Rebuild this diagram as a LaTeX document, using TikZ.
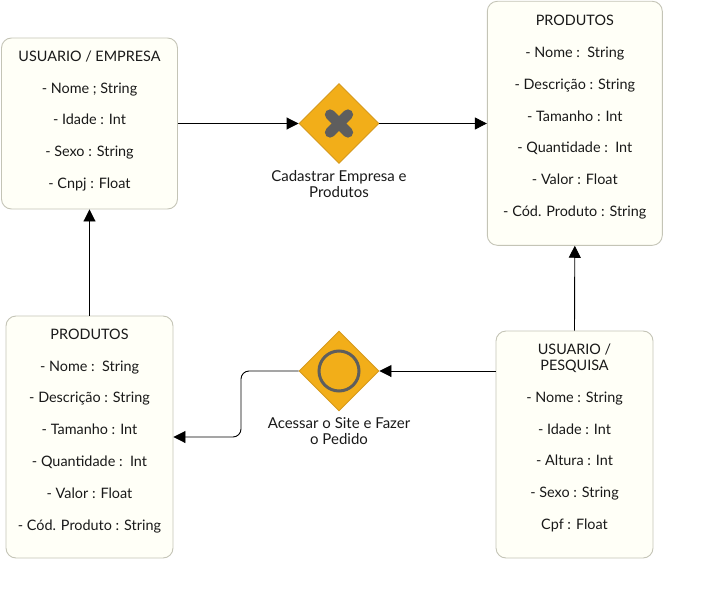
\documentclass[tikz,border=0pt]{standalone}
\usepackage{fontspec}
\setmainfont{Lato}
\usetikzlibrary{positioning,
	shapes.geometric,
	arrows.meta}
\definecolor{boxfill}{HTML}{FFFFF7}
\definecolor{boxline}{HTML}{C4C4B6}
\definecolor{gwfill}{HTML}{F2AE19}
\definecolor{gwline}{HTML}{D69A1E}
\definecolor{gwsym}{HTML}{5E5E5E}
\tikzstyle{entity}=[draw=boxline, line width=0.9pt, fill=boxfill, rounded corners=10pt, inner sep=0]
\tikzstyle{fields}=[align=center, inner sep=0, text=black!90, font=\fontsize{14.4}{16}\selectfont]
\tikzstyle{gateway}=[diamond, aspect=1, draw=gwline, line width=0.9pt, fill=gwfill, minimum width=80pt, minimum height=80pt, inner sep=0]
\tikzstyle{caption}=[align=center, inner sep=0, text=black!90, font=\fontsize{15}{16}\selectfont]
\tikzstyle{flow}=[-{Triangle[length=12pt,width=12pt]}, black, line width=0.9pt]
\tikzstyle{xmark}=[gwsym, line width=10.5pt, line cap=round]
\tikzstyle{omark}=[circle, draw=gwsym, line width=3pt, minimum size=40pt, inner sep=0]
\begin{document}
\begin{tikzpicture}[x=1pt,y=-1pt]
	\useasboundingbox (0,0) rectangle (719,591);
	% boxes
	\node[entity, minimum width=176pt, minimum height=171pt] (empresa) at (89.5,123.5) {};
	\node[entity, minimum width=175pt, minimum height=244pt] (catalogo) at (574.8,123.3) {};
	\node[entity, minimum width=167pt, minimum height=242pt] (pedido) at (89.5,437) {};
	\node[entity, minimum width=157pt, minimum height=227pt] (pesquisa) at (574.5,444.5) {};
	% box texts
	\node[fields, below=13.2pt of empresa.north] (empresatxt) {USUARIO / EMPRESA\\[15.7pt]- Nome ; String\\[15.7pt]- Idade : Int\\[15.7pt]- Sexo : String\\[15.7pt]- Cnpj : Float};
	\node[fields, below=14.2pt of catalogo.north] (catalogotxt) {PRODUTOS\\[15.8pt]- Nome :~~String\\[15.8pt]- Descrição : String\\[15.8pt]- Tamanho : Int\\[15.8pt]- Quantidade :~~Int\\[15.8pt]- Valor : Float\\[15.8pt]- Cód. Produto : String};
	\node[fields, below=13.2pt of pedido.north] (pedidotxt) {PRODUTOS\\[15.8pt]- Nome :~~String\\[15.8pt]- Descrição : String\\[15.8pt]- Tamanho : Int\\[15.8pt]- Quantidade :~~Int\\[15.8pt]- Valor : Float\\[15.8pt]- Cód. Produto : String};
	\node[fields, below=13.2pt of pesquisa.north] (pesquisatxt) {USUARIO /\\PESQUISA\\[15.8pt]- Nome : String\\[15.8pt]- Idade : Int\\[15.8pt]- Altura : Int\\[15.8pt]- Sexo : String\\[15.8pt]Cpf : Float};
	% gateways
	\node[gateway] (cadastrar) at (339,123.5) {};
	\node[gateway] (acessar) at (339,371) {};
	\draw[xmark] ([shift={(-8.9,-8.9)}]cadastrar.center) -- ([shift={(8.9,8.9)}]cadastrar.center);
	\draw[xmark] ([shift={(-8.9,8.9)}]cadastrar.center) -- ([shift={(8.9,-8.9)}]cadastrar.center);
	\node[omark] (acessarsym) at (acessar.center) {};
	\node[caption, below=6.2pt of cadastrar.south] (cadastrarlbl) {Cadastrar Empresa e\\Produtos};
	\node[caption, below=6.2pt of acessar.south] (acessarlbl) {Acessar o Site e Fazer\\o Pedido};
	% connectors
	\coordinate (curva) at (241,371);
	\draw[flow] (empresa.east) -- (cadastrar.west);
	\draw[flow] (cadastrar.east) -- (catalogo.west |- cadastrar.east);
	\draw[flow] (pesquisa.west |- acessar.east) -- (acessar.east);
	\draw[flow, rounded corners=8pt] (acessar.west) -- (curva) |- (pedido.east);
	\draw[flow] (pesquisa.north) -- (catalogo.south);
	\draw[flow] (pedido.north) -- (empresa.south);
\end{tikzpicture}
\end{document}
